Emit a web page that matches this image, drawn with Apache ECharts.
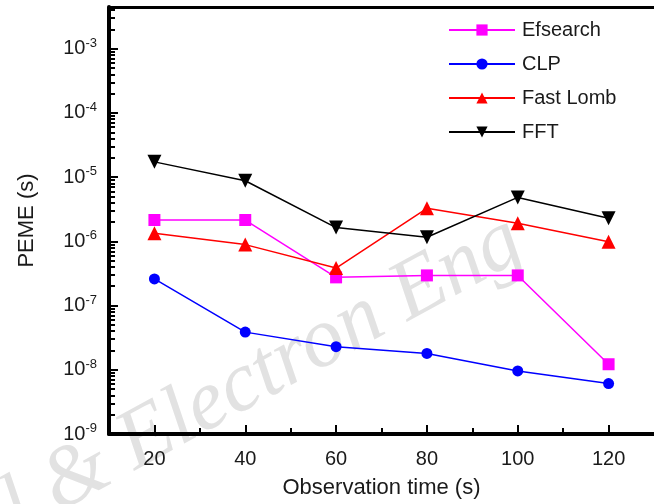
<!DOCTYPE html>
<html><head><meta charset="utf-8">
<script src="https://cdn.jsdelivr.net/npm/echarts@6/dist/echarts.min.js"></script>
<style>html,body{margin:0;padding:0;background:#fff}#c{width:654px;height:504px}</style>
</head><body><div id="c"></div>
<script>
var times = [20, 40, 60, 80, 100, 120];
var efsearch = [2.15e-6, 2.15e-6, 2.75e-7, 2.95e-7, 2.95e-7, 1.22e-8];
var clp = [2.6e-7, 3.86e-8, 2.29e-8, 1.8e-8, 9.6e-9, 6.1e-9];
var fastLomb = [1.34e-6, 8.9e-7, 3.84e-7, 3.27e-6, 1.91e-6, 9.9e-7];
var fft = [1.73e-5, 8.8e-6, 1.64e-6, 1.16e-6, 4.84e-6, 2.29e-6];
var xMajorTicks = [20, 40, 60, 80, 100, 120];
var xMinorTicks = [30, 50, 70, 90, 110];
var yTickExponents = [-9, -8, -7, -6, -5, -4, -3];

var yMin = 1e-9, yMax = Math.pow(10, -2.35);
var yMajor = yTickExponents.map(function (e) { return Math.pow(10, e); });
var yMinor = [];
yTickExponents.forEach(function (e) {
  for (var m = 2; m <= 9; m++) { var v = m * Math.pow(10, e); if (v <= yMax) yMinor.push(v); }
});
var font = 'Arial, "Liberation Sans", sans-serif';
var txt = '#1a1a1a';

var chart = echarts.init(document.getElementById('c'));
function mk(name, data, color, symbol, size, rot) {
  return {
    name: name, type: 'line', data: times.map(function (t, i) { return [t, data[i]]; }),
    symbol: symbol, symbolSize: size, symbolRotate: rot || 0,
    lineStyle: { color: color, width: 1.5 }, itemStyle: { color: color },
    emphasis: { disabled: true }, z: 3
  };
}
chart.setOption({
  animation: false,
  grid: { left: 109, right: -7, top: 7, bottom: 68, containLabel: false },
  graphic: [{
    type: 'text', x: -9, y: 572, rotation: 0.5, z: 0,
    style: { text: 'ol & Electron Eng', font: 'italic 85px "Liberation Serif", "DejaVu Serif", serif', fill: '#e2e2e2', textAlign: 'left', textVerticalAlign: 'bottom' }
  }],
  legend: {
    orient: 'vertical', left: 443, top: 15, itemWidth: 66, itemHeight: 14, itemGap: 14,
    textStyle: { fontSize: 20, fontFamily: font, color: txt, padding: [0, 0, 0, 2] },
    data: ['Efsearch', 'CLP', 'Fast Lomb', 'FFT']
  },
  xAxis: [{
    type: 'value', min: 10, max: 130, position: 'bottom',
    name: 'Observation time (s)', nameLocation: 'middle', nameGap: 43,
    nameTextStyle: { fontSize: 22, fontFamily: font, color: txt },
    axisLine: { lineStyle: { color: '#000', width: 4 } },
    axisTick: { inside: true, length: 9, lineStyle: { color: '#000', width: 2 }, customValues: xMajorTicks },
    axisLabel: { fontSize: 20, fontFamily: font, color: txt, margin: 15, customValues: xMajorTicks },
    splitLine: { show: false }
  }, {
    type: 'value', min: 10, max: 130, position: 'bottom',
    axisLine: { show: false },
    axisTick: { inside: true, length: 6, lineStyle: { color: '#000', width: 2 }, customValues: xMinorTicks },
    axisLabel: { show: false }, splitLine: { show: false }
  }, {
    type: 'value', min: 10, max: 130, position: 'top',
    axisLine: { lineStyle: { color: '#000', width: 3 } },
    axisTick: { show: false }, axisLabel: { show: false }, splitLine: { show: false }
  }],
  yAxis: [{
    type: 'log', min: yMin, max: yMax, position: 'left',
    name: 'PEME (s)', nameLocation: 'middle', nameGap: 71, nameRotate: 90,
    nameTextStyle: { fontSize: 22, fontFamily: font, color: txt },
    axisLine: { lineStyle: { color: '#000', width: 4 } },
    axisTick: { inside: true, length: 9, lineStyle: { color: '#000', width: 2 }, customValues: yMajor },
    axisLabel: {
      margin: 12, customValues: yMajor,
      formatter: function (v) { var e = Math.round(Math.log10(v)); return '{b|10}{s|' + e + '}'; },
      rich: {
        b: { fontSize: 20, fontFamily: font, color: txt, lineHeight: 24 },
        s: { fontSize: 13, fontFamily: font, color: txt, verticalAlign: 'top', lineHeight: 15 }
      }
    },
    splitLine: { show: false }
  }, {
    type: 'log', min: yMin, max: yMax, position: 'left',
    axisLine: { show: false },
    axisTick: { inside: true, length: 6, lineStyle: { color: '#000', width: 2 }, customValues: yMinor },
    axisLabel: { show: false }, splitLine: { show: false }
  }],
  series: [
    mk('Efsearch', efsearch, '#ff00ff', 'rect', 12),
    mk('CLP', clp, '#0000ff', 'circle', 11),
    mk('Fast Lomb', fastLomb, '#ff0000', 'triangle', 14),
    mk('FFT', fft, '#000000', 'triangle', 14, 180)
  ]
});
</script></body></html>
